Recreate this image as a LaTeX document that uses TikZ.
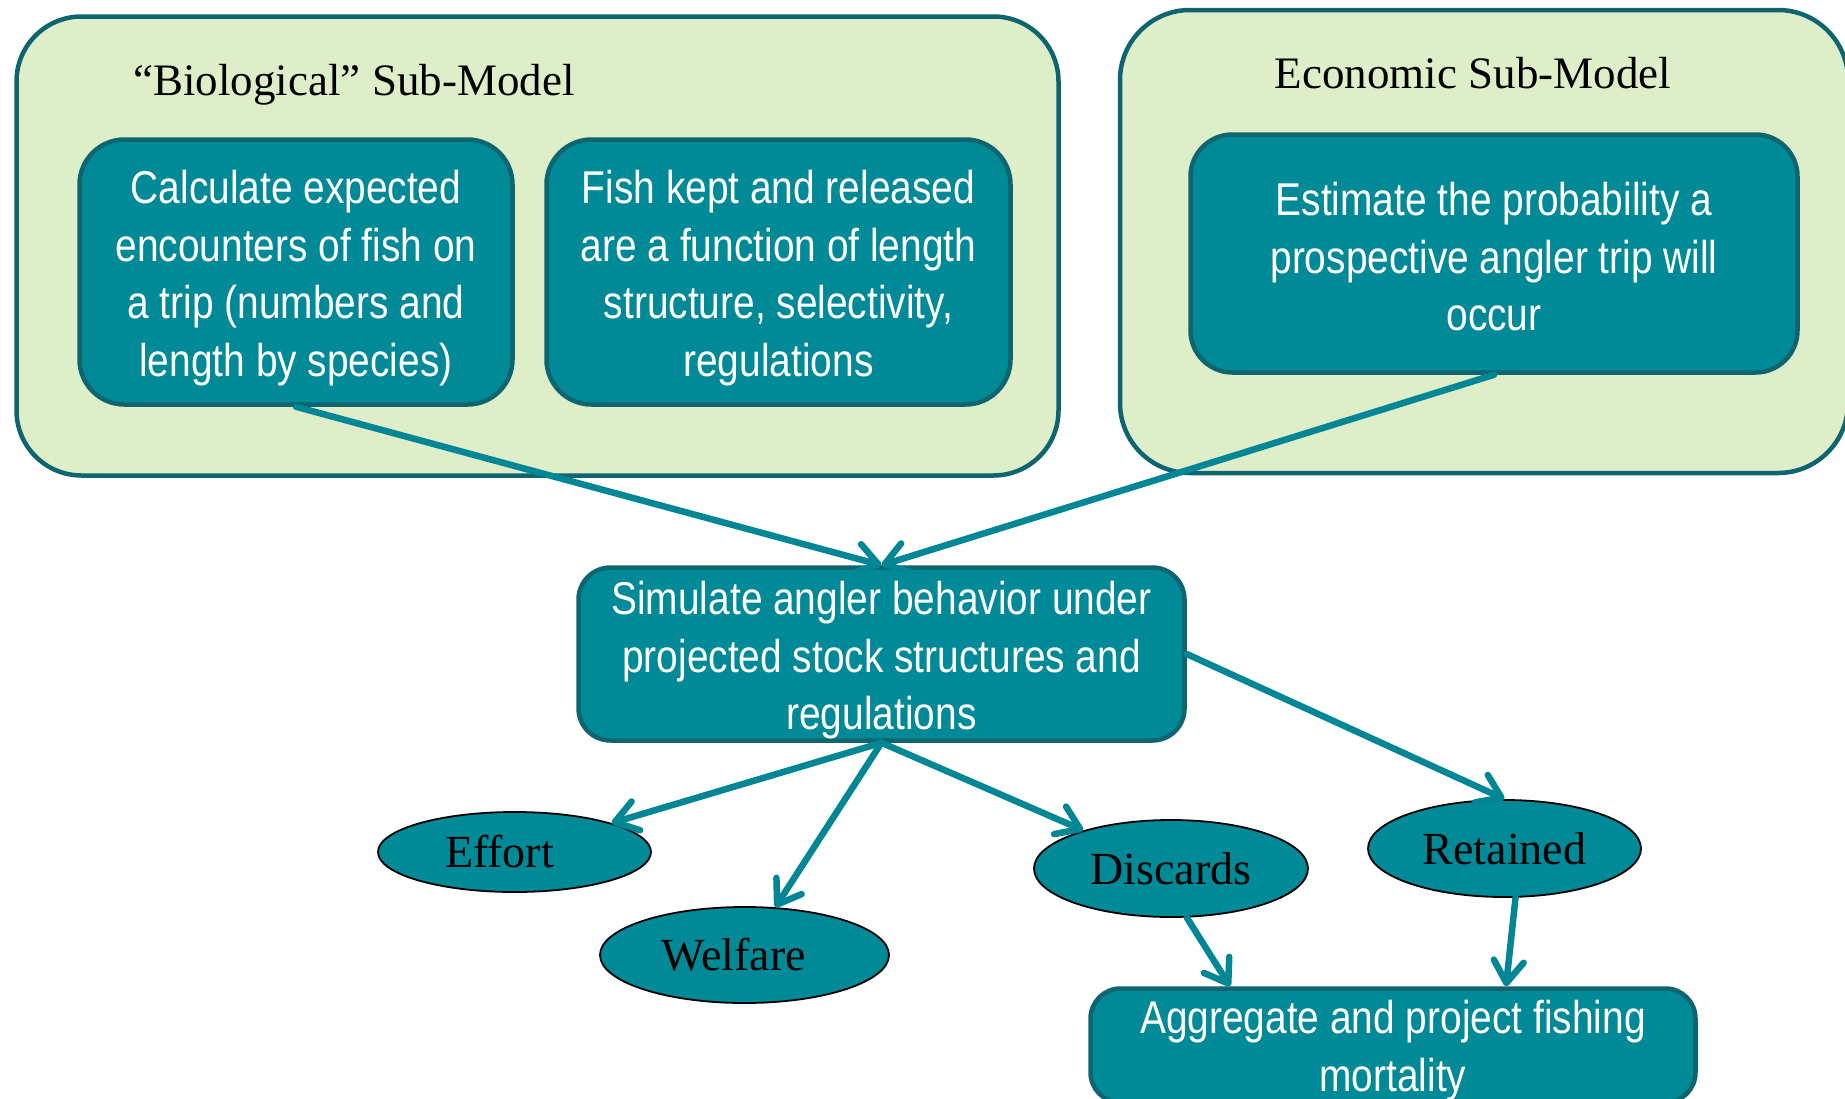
\documentclass[tikz,border=0pt]{standalone}
\usepackage{fontspec}
\setmainfont{Liberation Serif}
\newfontfamily\boxfont[FakeStretch=0.845]{Liberation Sans}
\usetikzlibrary{shapes.geometric,arrows.meta,calc}
\definecolor{tealfill}{RGB}{0,137,151}
\definecolor{tealdark}{RGB}{14,101,111}
\definecolor{lgreen}{RGB}{221,238,201}
\definecolor{arrowc}{RGB}{0,134,148}
\newcommand\toppad[1]{\rule{0pt}{#1}}
\begin{document}
\begin{tikzpicture}[x=1pt,y=-1pt,
  outerbox/.style={draw=tealdark, line width=4.5pt, fill=lgreen, rounded corners=65pt, inner sep=0pt},
  innerbox/.style={draw=tealdark, line width=4.5pt, fill=tealfill, rounded corners=#1, inner sep=0pt,
    text=white, align=center, font=\boxfont\fontsize{46}{57.5}\selectfont},
  oval/.style={ellipse, draw=black, line width=1.8pt, fill=tealfill, inner sep=0pt,
    font=\fontsize{46}{54}\selectfont},
  titletext/.style={anchor=base, font=\fontsize{45}{54}\selectfont},
  conn/.style={draw=arrowc, line width=6.5pt, line cap=round,
    -{Straight Barb[length=22pt,width=30pt,round]}}
]
\fill[white] (0,0) rectangle (1845,1098);
\useasboundingbox (0,0) rectangle (1845,1098);
\clip (0,0) rectangle (1845,1098);

% sub-model containers
\node[outerbox, minimum width=1042pt, minimum height=459pt] (bio) at (537.5,246) {};
\node[outerbox, rounded corners=70pt, minimum width=728pt, minimum height=463pt] (eco) at (1484,241.5) {};
\node[titletext] (biot) at (354,95) {“Biological” Sub-Model};
\node[titletext] (ecot) at (1473,88) {Economic Sub-Model};

% process boxes
\node[innerbox=45pt, minimum width=433pt, minimum height=265pt] (calc) at (296,272)
  {\toppad{46pt}Calculate expected\\encounters of fish on\\a trip (numbers and\\length by species)};
\node[innerbox=45pt, minimum width=464pt, minimum height=265pt] (kept) at (778.5,272)
  {\toppad{46pt}Fish kept and released\\are a function of length\\structure, selectivity,\\regulations};
\node[innerbox=42pt, minimum width=607pt, minimum height=238pt] (est) at (1494,253.5)
  {\toppad{40pt}Estimate the probability a\\prospective angler trip will\\occur};
\node[innerbox=32pt, minimum width=606pt, minimum height=173pt] (sim) at (881.5,654)
  {\toppad{46pt}Simulate angler behavior under\\projected stock structures and\\regulations};
\node[innerbox=30pt, minimum width=605pt, minimum height=114pt] (agg) at (1393,1045.5)
  {\toppad{44pt}Aggregate and project fishing\\mortality};

% outputs
\node[oval, minimum width=273pt, minimum height=80pt] (eff) at (514.5,852) {Effort\kern30pt};
\node[oval, minimum width=289pt, minimum height=96pt] (wel) at (744.5,955) {Welfare\kern22pt};
\node[oval, minimum width=274pt, minimum height=97pt] (dis) at (1171,868.5) {Discards};
\node[oval, minimum width=273pt, minimum height=97pt] (ret) at (1504.5,848.5) {Retained};

% connectors
\draw[conn] (calc.south) -- (sim.north);
\draw[conn] (est.south) -- (sim.north);
\draw[conn] (sim.south) -- (eff);
\draw[conn] (sim.south) -- (wel);
\draw[conn] (sim.south) -- (dis);
\draw[conn] (sim.east) -- (ret.north);
\draw[conn] ($(dis.south)+(16,0)$) -- ($(agg.north)+(-163,0)$);
\draw[conn] ($(ret.south)+(11,0)$) -- ($(agg.north)+(113,0)$);
\end{tikzpicture}
\end{document}
